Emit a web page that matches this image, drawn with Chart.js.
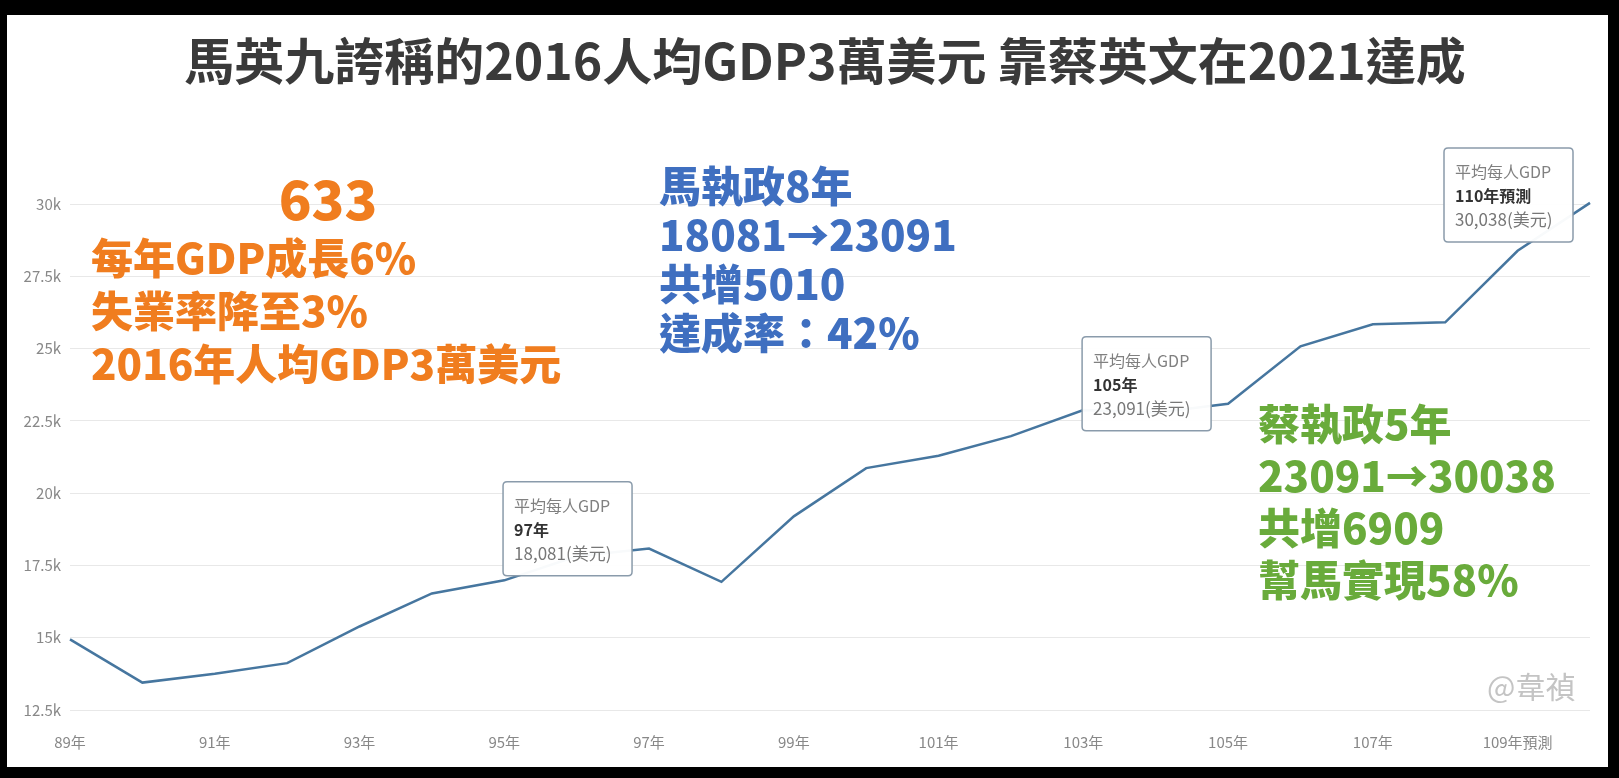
<!DOCTYPE html>
<html>
<head>
<meta charset="utf-8">
<script src="https://cdn.jsdelivr.net/npm/chart.js@4"></script>
<style>
  html, body { margin: 0; padding: 0; background: #000; }
  #wrap { width: 1619px; height: 778px; }
</style>
</head>
<body>
<div id="wrap"><canvas id="gdpChart" width="1619" height="778"></canvas></div>
<script>
// 年度 (民國) 與平均每人GDP (美元)
let years = ["89年", "90年", "91年", "92年", "93年", "94年", "95年", "96年", "97年", "98年", "99年",
  "100年", "101年", "102年", "103年", "104年", "105年", "106年", "107年", "108年", "109年預測", "110年預測"];
let gdpValues = [14941, 13448, 13750, 14120, 15388, 16532, 16984, 17814, 18081, 16933, 19197,
  20866, 21295, 21973, 22874, 22780, 23091, 25080, 25838, 25908, 28383, 30038];
let tickValues = [12500, 15000, 17500, 20000, 22500, 25000, 27500, 30000];

// 標示框所在的年份
let calloutIdx = [8, 16, 21];
let calloutNames = ["97年", "105年", "110年預測"];

let titleText = "馬英九誇稱的2016人均GDP3萬美元 靠蔡英文在2021達成";
let bigNumber = "633";
let orangeLines = ["每年GDP成長6%", "失業率降至3%", "2016年人均GDP3萬美元"];
let blueLines = ["馬執政8年", "18081→23091", "共增5010", "達成率：42%"];
let greenLines = ["蔡執政5年", "23091→30038", "共增6909", "幫馬實現58%"];

const cjk = '"Noto Sans CJK TC", "Noto Sans", sans-serif';

const framePlugin = {
  id: 'frame',
  beforeDraw(chart) {
    let ctx = chart.ctx;
    ctx.save();
    ctx.fillStyle = '#000';
    ctx.fillRect(0, 0, chart.width, chart.height);
    ctx.fillStyle = '#fff';
    ctx.fillRect(7, 15, 1601, 752);
    ctx.restore();
  }
};

function roundRect(ctx, x, y, w, h, r) {
  ctx.beginPath();
  ctx.moveTo(x + r, y);
  ctx.lineTo(x + w - r, y);
  ctx.quadraticCurveTo(x + w, y, x + w, y + r);
  ctx.lineTo(x + w, y + h - r);
  ctx.quadraticCurveTo(x + w, y + h, x + w - r, y + h);
  ctx.lineTo(x + r, y + h);
  ctx.quadraticCurveTo(x, y + h, x, y + h - r);
  ctx.lineTo(x, y + r);
  ctx.quadraticCurveTo(x, y, x + r, y);
  ctx.closePath();
}

const notesPlugin = {
  id: 'notes',
  afterDatasetsDraw(chart) {
    let ctx = chart.ctx;
    let meta = chart.getDatasetMeta(0);
    let boxShift = [-67, -67, -55];
    ctx.save();

    // 標題
    ctx.textAlign = 'center';
    ctx.textBaseline = 'middle';
    ctx.fillStyle = '#3a3a3a';
    ctx.font = 'bold 50px ' + cjk;
    ctx.fillText(titleText, 825, 61);

    // 標示框
    calloutIdx.forEach((idx, i) => {
      let pt = meta.data[idx];
      let w = 129, h = 94;
      let bx = pt.x - 17 - w;
      let by = pt.y + boxShift[i];
      roundRect(ctx, bx, by, w, h, 4);
      ctx.fillStyle = 'rgba(255,255,255,0.96)';
      ctx.fill();
      ctx.lineWidth = 1.5;
      ctx.strokeStyle = '#8a9bab';
      ctx.stroke();
      ctx.textAlign = 'left';
      ctx.textBaseline = 'middle';
      ctx.fillStyle = '#808080';
      ctx.font = '16px ' + cjk;
      ctx.fillText('平均每人GDP', bx + 11, by + 24);
      ctx.fillStyle = '#333';
      ctx.font = 'bold 16px ' + cjk;
      ctx.fillText(calloutNames[i], bx + 11, by + 48);
      ctx.fillStyle = '#777';
      ctx.font = '17px ' + cjk;
      ctx.fillText(gdpValues[idx].toLocaleString('en-US') + '(美元)', bx + 11, by + 72);
    });

    // 大字說明
    ctx.textBaseline = 'middle';
    ctx.fillStyle = '#f07d1f';
    ctx.font = '900 54px ' + cjk;
    ctx.textAlign = 'center';
    ctx.fillText(bigNumber, 328, 199);
    ctx.textAlign = 'left';
    ctx.font = '900 42px ' + cjk;
    orangeLines.forEach((t, i) => ctx.fillText(t, 91, 258 + i * 53));

    ctx.fillStyle = '#3f6fc0';
    blueLines.forEach((t, i) => ctx.fillText(t, 659, 186 + i * 49));

    ctx.fillStyle = '#69ab3b';
    greenLines.forEach((t, i) => ctx.fillText(t, 1258, 424 + i * 52));

    ctx.fillStyle = '#c4c4c4';
    ctx.font = '30px ' + cjk;
    ctx.fillText('@韋禎', 1487, 687);
    ctx.restore();
  }
};

new Chart('gdpChart', {
  type: 'line',
  data: {
    labels: years,
    datasets: [{
      data: gdpValues,
      borderColor: '#46769f',
      borderWidth: 2.5,
      pointRadius: 0,
      tension: 0,
      clip: false
    }]
  },
  options: {
    responsive: false,
    animation: false,
    events: [],
    layout: { padding: { left: 7, right: 29, top: 204, bottom: 11 } },
    plugins: {
      legend: { display: false },
      tooltip: { enabled: false },
      title: { display: false }
    },
    scales: {
      x: {
        offset: false,
        grid: { display: false },
        border: { display: false },
        ticks: {
          autoSkip: false,
          maxRotation: 0,
          padding: 15,
          color: '#888',
          font: { family: cjk, size: 15 },
          callback: function(v, i) { return i % 2 === 0 ? years[i] : ''; }
        },
        afterFit(s) { s.height = 57; }
      },
      y: {
        min: 12500,
        max: 30000,
        afterBuildTicks(s) { s.ticks = tickValues.map(v => ({ value: v })); },
        grid: { color: '#e8e8e8', drawTicks: false },
        border: { display: false },
        ticks: {
          padding: 9,
          color: '#888',
          font: { family: cjk, size: 15 },
          callback: v => (v / 1000) + 'k'
        },
        afterFit(s) { s.width = 63; }
      }
    }
  },
  plugins: [framePlugin, notesPlugin]
});
</script>
</body>
</html>
